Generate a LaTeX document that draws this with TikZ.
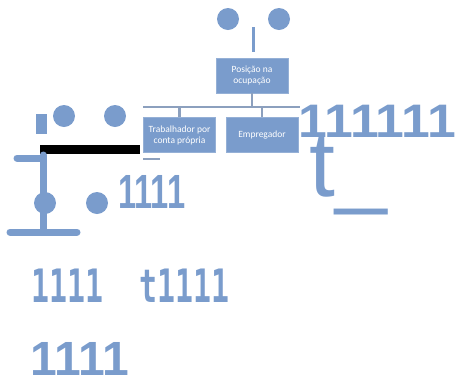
\documentclass[tikz,border=0pt]{standalone}
\usepackage{fontspec}
\setmainfont{Liberation Sans}
\setmonofont{DejaVu Sans Mono}
\newfontfamily\boxfont{Carlito}
\usetikzlibrary{positioning}
\definecolor{steel}{RGB}{122,156,204}
\definecolor{linkgray}{RGB}{140,160,190}
\tikzset{dot/.style = {fill = steel, circle, inner sep = 0, minimum size = 22}}
\tikzset{orgbox/.style = {fill = steel, draw = steel!80!white, text = white, align = center,
    minimum width = 72, minimum height = 35, inner sep = 1, font = \boxfont\fontsize{9.5}{11}\selectfont}}
\tikzset{bar/.style = {line width = 7, steel, line cap = round}}
\tikzset{link/.style = {line width = 2.5, linkgray}}
\tikzset{digits/.style = {text = steel, inner sep = 0, anchor = base west}}

\begin{document}
\begin{tikzpicture}[x = 1pt, y = -1pt]

      \useasboundingbox (0, 0) rectangle (456, 376);
      \clip (0, 0) rectangle (456, 376);

      % top part with the chart
      \node [dot] (d1) at (228, 19) {};
      \node [dot] (d2) at (279, 19) {};
      \coordinate (s1) at (253, 27);
      \coordinate (s2) at (253, 52);
      \draw [line width = 3, steel] (s1) -- (s2);

      \node [orgbox] (pos) at (252, 75.5) {Posição na\\ocupação};
      \node [orgbox] (trab) at (179.5, 135) {Trabalhador por\\conta própria};
      \node [orgbox] (emp) at (262, 135) {Empregador};

      \coordinate (hl) at (143, 107);
      \coordinate (hr) at (300, 107);
      \draw [link] (hl) -- (hr);
      \draw [link] (pos) -- (pos |- hl);
      \draw [link] (trab) -- (trab |- hl);
      \draw [link] (emp) -- (emp |- hl);
      \draw [line width = 2, linkgray] (143, 159) -- (160, 159);

      \node [digits, xscale = 1.1, font = \bfseries\fontsize{47}{47}\selectfont] (n6) at (298, 137) {111111};
      \node [digits, font = \fontsize{93}{93}\selectfont] (t) at (309, 196) {t\_};

      % left part
      \fill [steel] (36, 114) rectangle (47, 134);
      \node [dot] (d3) at (64, 116) {};
      \node [dot] (d4) at (115, 116) {};
      \fill [black] (40, 145) rectangle (140, 154);
      \draw [bar] (17, 158) -- (43, 158);
      \draw [bar] (43, 155) -- (43, 231);
      \draw [bar] (10, 232) -- (77, 232);
      \node [dot] (d5) at (45, 203) {};
      \node [dot] (d6) at (97, 203) {};
      \node [digits, xscale = 0.68, font = \bfseries\fontsize{48}{48}\selectfont] (n4) at (118, 208) {1111};

      % rows of digits at the bottom
      \node [digits, xscale = 0.65, font = \ttfamily\bfseries\fontsize{46}{46}\selectfont] (r1) at (31, 302) {1111\ \ t1111};
      \node [digits, font = \bfseries\fontsize{48}{48}\selectfont] (r2) at (30, 375) {1111};

\end{tikzpicture}
\end{document}
